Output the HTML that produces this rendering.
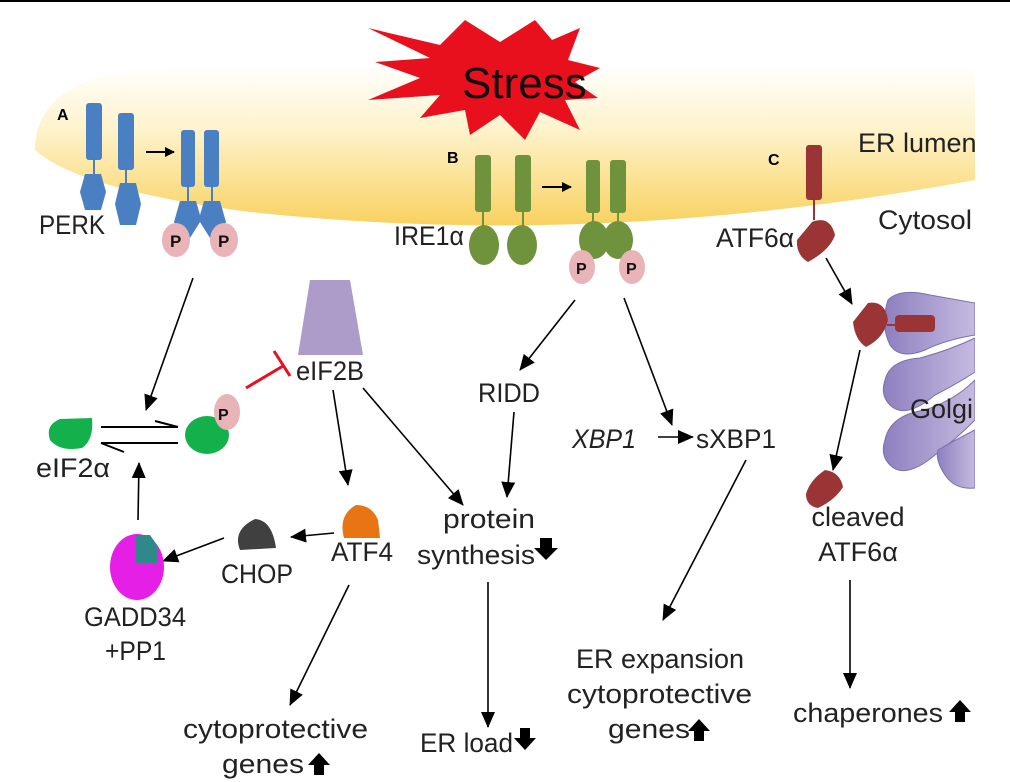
<!DOCTYPE html>
<html><head><meta charset="utf-8"><style>
html,body{margin:0;padding:0;background:#fff;}
svg{display:block;}
text{font-family:"Liberation Sans",sans-serif;fill:#222;}
.t{font-size:27px;}
.b{font-size:16px;font-weight:bold;fill:#000;}
</style></head><body>
<svg width="1010" height="782" viewBox="0 0 1010 782" xmlns="http://www.w3.org/2000/svg">
<defs>
<linearGradient id="y" x1="0" y1="0" x2="0" y2="1">
<stop offset="0" stop-color="#ffffff"/>
<stop offset="0.4" stop-color="#fef3cc"/>
<stop offset="1" stop-color="#f8d160"/>
</linearGradient>
<linearGradient id="g" x1="0" y1="0" x2="1" y2="0">
<stop offset="0" stop-color="#8e7fbf"/>
<stop offset="1" stop-color="#c5bbe0"/>
</linearGradient>
<marker id="a" markerWidth="10" markerHeight="10" refX="9" refY="5" orient="auto" markerUnits="userSpaceOnUse" viewBox="0 0 10 10">
<path d="M0,0 L10,5 L0,10 Z" fill="#000"/>
</marker>
<marker id="a2" markerWidth="16" markerHeight="16" refX="15" refY="8" orient="auto" markerUnits="userSpaceOnUse" viewBox="0 0 16 16">
<path d="M0,1 L16,8 L0,15 Z" fill="#000"/>
</marker>
</defs>
<rect x="0" y="0" width="1010" height="2" fill="#000"/>
<path d="M35,150 Q35,65 200,65 L975,65 L975,180 Q600,250 250,212 Q80,190 35,150 Z" fill="url(#y)"/>
<polygon points="368,28 440,45 465,20 500,42 535,20 552,40 580,28 568,60 600,68 575,82 598,98 565,100 580,130 540,112 525,140 500,115 470,135 465,110 420,118 440,95 368,100 420,78 375,62 430,58" fill="#e8101c"/>
<text x="462" y="98" style="font-size:44px;fill:#111">Stress</text>
<!-- PERK -->
<text class="b" x="57" y="120">A</text>
<rect x="86" y="103" width="16" height="57" rx="3" fill="#4a7fc1"/>
<rect x="93" y="160" width="2" height="14" fill="#4a7fc1"/>
<polygon points="85,174 101,174 106,192 101,210 85,210 80,192" fill="#4a7fc1"/>
<rect x="118" y="113" width="16" height="57" rx="3" fill="#4a7fc1"/>
<rect x="125" y="170" width="2" height="13" fill="#4a7fc1"/>
<polygon points="120,183 136,183 141,204 136,225 120,225 115,204" fill="#4a7fc1"/>
<line x1="146" y1="152" x2="174" y2="152" stroke="#000" stroke-width="2" marker-end="url(#a)"/>
<rect x="181" y="130" width="14" height="57" rx="3" fill="#4a7fc1"/>
<rect x="204" y="130" width="15" height="57" rx="3" fill="#4a7fc1"/>
<rect x="187" y="187" width="2" height="14" fill="#4a7fc1"/>
<rect x="211" y="187" width="2" height="14" fill="#4a7fc1"/>
<polygon points="180,201 196,201 200,215 204,201 220,201 226,222 220,238 210,238 200,222 190,238 180,238 174,222" fill="#4a7fc1"/>
<ellipse cx="176" cy="240" rx="14" ry="17" fill="#e8b4b8"/>
<ellipse cx="224" cy="240" rx="14" ry="17" fill="#e8b4b8"/>
<text x="170" y="247" style="font-size:17px;font-weight:bold;fill:#111">P</text>
<text x="218" y="247" style="font-size:17px;font-weight:bold;fill:#111">P</text>
<text class="t" x="39" y="234" textLength="66" lengthAdjust="spacingAndGlyphs">PERK</text>
<!-- IRE1 -->
<text class="b" x="447" y="163">B</text>
<rect x="475" y="155" width="16" height="57" rx="3" fill="#6f923c"/>
<rect x="482" y="212" width="2" height="15" fill="#6f923c"/>
<ellipse cx="484" cy="245" rx="15" ry="20" fill="#6f923c"/>
<rect x="515" y="155" width="16" height="57" rx="3" fill="#6f923c"/>
<rect x="522" y="212" width="2" height="15" fill="#6f923c"/>
<ellipse cx="522" cy="245" rx="15" ry="20" fill="#6f923c"/>
<line x1="542" y1="187" x2="571" y2="187" stroke="#000" stroke-width="2" marker-end="url(#a)"/>
<rect x="586" y="160" width="14" height="53" rx="3" fill="#6f923c"/>
<rect x="610" y="160" width="16" height="53" rx="3" fill="#6f923c"/>
<ellipse cx="594" cy="240" rx="15" ry="19" fill="#6f923c"/>
<ellipse cx="618" cy="240" rx="15" ry="19" fill="#6f923c"/>
<rect x="592" y="213" width="2" height="10" fill="#6f923c"/>
<rect x="617" y="213" width="2" height="10" fill="#6f923c"/>
<ellipse cx="582" cy="267" rx="13" ry="17" fill="#e8b4b8"/>
<ellipse cx="632" cy="267" rx="13" ry="17" fill="#e8b4b8"/>
<text x="576" y="274" style="font-size:16px;font-weight:bold;fill:#111">P</text>
<text x="626" y="274" style="font-size:16px;font-weight:bold;fill:#111">P</text>
<text class="t" x="394" y="245" textLength="70" lengthAdjust="spacingAndGlyphs">IRE1α</text>
<!-- ATF6 -->
<text class="b" x="768" y="165">C</text>
<rect x="806" y="145" width="16" height="55" rx="3" fill="#9b3535"/>
<rect x="813" y="200" width="2" height="20" fill="#9b3535"/>
<path d="M812,222 Q830,215 835,235 Q830,250 808,262 Q796,255 797,240 Z" fill="#9b3535"/>
<text class="t" x="716" y="247" textLength="78" lengthAdjust="spacingAndGlyphs">ATF6α</text>
<text class="t" x="858" y="152">ER lumen</text>
<text class="t" x="878" y="229" textLength="94" lengthAdjust="spacingAndGlyphs">Cytosol</text>
<!-- Golgi -->
<g fill="url(#g)" stroke="#7d6fae" stroke-width="1">
<path d="M888,300 Q900,288 930,295 L975,303 L975,335 Q945,340 925,350 Q900,360 890,345 Q880,325 888,300 Z"/>
<path d="M885,380 Q890,360 920,358 Q950,350 975,338 L975,372 Q955,385 935,395 Q905,420 890,405 Q880,395 885,380 Z"/>
<path d="M885,440 Q890,415 925,410 Q955,400 975,380 L975,420 Q955,440 935,455 Q905,480 890,465 Q880,455 885,440 Z"/>
<path d="M938,450 Q955,440 975,430 L975,488 Q955,490 945,475 Q935,460 938,450 Z"/>
</g>
<rect x="975" y="60" width="35" height="450" fill="#fff"/>
<path d="M868,303 Q885,300 888,320 Q884,338 866,347 Q855,340 853,322 Z" fill="#9b3535"/>
<rect x="887" y="324" width="10" height="2" fill="#9b3535"/>
<rect x="895" y="315" width="40" height="17" rx="4" fill="#9b3535"/>
<text class="t" x="910" y="418">Golgi</text>
<rect x="975" y="395" width="35" height="30" fill="#fff"/>
<line x1="826" y1="258" x2="852" y2="304" stroke="#000" stroke-width="1.6" marker-end="url(#a2)"/>
<line x1="860" y1="350" x2="833" y2="470" stroke="#000" stroke-width="1.6" marker-end="url(#a2)"/>
<path d="M825,470 Q840,472 843,487 Q835,500 818,508 Q806,506 806,494 Q810,480 825,470 Z" fill="#9b3535"/>
<text class="t" x="858" y="526" text-anchor="middle">cleaved</text>
<text class="t" x="858" y="561" text-anchor="middle">ATF6α</text>
<line x1="850" y1="580" x2="850" y2="688" stroke="#000" stroke-width="1.6" marker-end="url(#a2)"/>
<text class="t" x="793" y="722" textLength="150" lengthAdjust="spacingAndGlyphs">chaperones</text>
<path d="M955,722 L955,712 L949,712 L960,700 L971,712 L965,712 L965,722 Z" fill="#000"/>
<!-- eIF2 section -->
<line x1="193" y1="278" x2="146" y2="410" stroke="#000" stroke-width="1.6" marker-end="url(#a2)"/>
<path d="M60,419 L92,418 Q94,440 82,448 Q60,452 50,440 Q45,425 60,419 Z" fill="#13b04c"/>
<text class="t" x="36" y="477" textLength="74" lengthAdjust="spacingAndGlyphs">eIF2α</text>
<line x1="101" y1="427" x2="178" y2="427" stroke="#000" stroke-width="2"/>
<polyline points="155,421 178,427" fill="none" stroke="#000" stroke-width="2"/>
<line x1="101" y1="443" x2="178" y2="443" stroke="#000" stroke-width="2"/>
<polyline points="101,443 124,452" fill="none" stroke="#000" stroke-width="2"/>
<ellipse cx="207" cy="435" rx="22" ry="19" fill="#13b04c"/>
<ellipse cx="227" cy="412" rx="13" ry="18" fill="#e8b4b8"/>
<text x="218" y="420" style="font-size:16px;font-weight:bold;fill:#111">P</text>
<line x1="246" y1="388" x2="283" y2="366" stroke="#e8101c" stroke-width="3"/>
<line x1="274" y1="351" x2="290" y2="376" stroke="#e8101c" stroke-width="3"/>
<polygon points="310,280 350,280 363,355 298,355" fill="#ad9cc9"/>
<text class="t" x="296" y="380" textLength="68" lengthAdjust="spacingAndGlyphs">eIF2B</text>
<line x1="333" y1="390" x2="348" y2="485" stroke="#000" stroke-width="1.6" marker-end="url(#a2)"/>
<line x1="363" y1="388" x2="463" y2="505" stroke="#000" stroke-width="1.6" marker-end="url(#a2)"/>
<path d="M356,505 Q372,505 378,520 L380,538 L344,538 Q338,515 356,505 Z" fill="#e87414"/>
<text class="t" x="331" y="561" textLength="62" lengthAdjust="spacingAndGlyphs">ATF4</text>
<path d="M255,519 Q272,520 276,548 L240,550 Q232,530 255,519 Z" fill="#404040"/>
<text class="t" x="221" y="583" textLength="72" lengthAdjust="spacingAndGlyphs">CHOP</text>
<line x1="334" y1="533" x2="291" y2="537" stroke="#000" stroke-width="1.6" marker-end="url(#a2)"/>
<line x1="224" y1="538" x2="163" y2="561" stroke="#000" stroke-width="1.6" marker-end="url(#a2)"/>
<ellipse cx="137" cy="567" rx="27" ry="33" fill="#e61fe6"/>
<path d="M136,535 L150,535 L157,545 L157,563 L136,563 Z" fill="#2e8a8a"/>
<line x1="138" y1="520" x2="139" y2="463" stroke="#000" stroke-width="1.6" marker-end="url(#a2)"/>
<text class="t" x="84" y="626" textLength="102" lengthAdjust="spacingAndGlyphs">GADD34</text>
<text class="t" x="105" y="660" textLength="61" lengthAdjust="spacingAndGlyphs">+PP1</text>
<line x1="349" y1="585" x2="290" y2="705" stroke="#000" stroke-width="1.6" marker-end="url(#a2)"/>
<text class="t" x="183" y="738" textLength="185" lengthAdjust="spacingAndGlyphs">cytoprotective</text>
<text class="t" x="222" y="773" textLength="82" lengthAdjust="spacingAndGlyphs">genes</text>
<path d="M314,775 L314,765 L308,765 L319,753 L330,765 L324,765 L324,775 Z" fill="#000"/>
<!-- IRE1 outputs -->
<line x1="575" y1="300" x2="520" y2="370" stroke="#000" stroke-width="1.6" marker-end="url(#a2)"/>
<text class="t" x="478" y="402" textLength="62" lengthAdjust="spacingAndGlyphs">RIDD</text>
<line x1="514" y1="412" x2="507" y2="497" stroke="#000" stroke-width="1.6" marker-end="url(#a2)"/>
<text class="t" x="443" y="528" textLength="92" lengthAdjust="spacingAndGlyphs">protein</text>
<text class="t" x="417" y="564" textLength="118" lengthAdjust="spacingAndGlyphs">synthesis</text>
<path d="M540,538 L552,538 L552,548 L558,548 L546,560 L534,548 L540,548 Z" fill="#000"/>
<line x1="488" y1="582" x2="488" y2="727" stroke="#000" stroke-width="1.6" marker-end="url(#a2)"/>
<text class="t" x="420" y="752" textLength="93" lengthAdjust="spacingAndGlyphs">ER load</text>
<path d="M520,728 L530,728 L530,738 L536,738 L525,750 L514,738 L520,738 Z" fill="#000"/>
<line x1="624" y1="298" x2="672" y2="425" stroke="#000" stroke-width="1.6" marker-end="url(#a2)"/>
<text class="t" x="572" y="448" style="font-style:italic" textLength="64" lengthAdjust="spacingAndGlyphs">XBP1</text>
<line x1="658" y1="437" x2="693" y2="437" stroke="#000" stroke-width="1.6" marker-end="url(#a2)"/>
<text class="t" x="696" y="448" textLength="80" lengthAdjust="spacingAndGlyphs">sXBP1</text>
<line x1="746" y1="460" x2="663" y2="620" stroke="#000" stroke-width="1.6" marker-end="url(#a2)"/>
<text class="t" x="576" y="668" textLength="168" lengthAdjust="spacingAndGlyphs">ER expansion</text>
<text class="t" x="567" y="703" textLength="185" lengthAdjust="spacingAndGlyphs">cytoprotective</text>
<text class="t" x="608" y="738" textLength="82" lengthAdjust="spacingAndGlyphs">genes</text>
<path d="M694,741 L694,731 L688,731 L699,719 L710,731 L704,731 L704,741 Z" fill="#000"/>
</svg>
</body></html>
